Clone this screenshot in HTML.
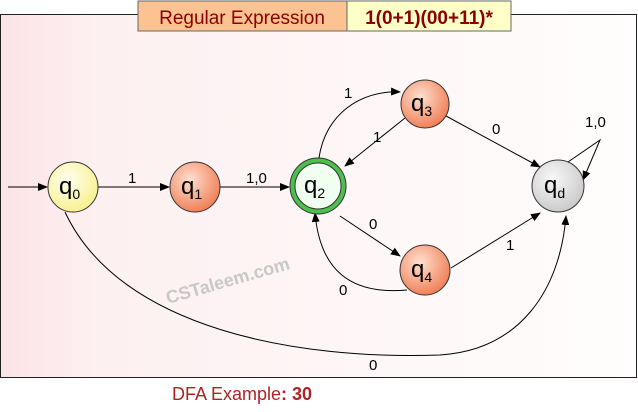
<!DOCTYPE html>
<html><head><style>
body{margin:0;width:638px;height:407px;background:#fff;overflow:hidden;font-family:"Liberation Sans",sans-serif}
</style></head><body>
<svg width="638" height="407" xmlns="http://www.w3.org/2000/svg" font-family="Liberation Sans, sans-serif">
<defs>
<linearGradient id="bg" x1="0" x2="1" y1="0" y2="0"><stop offset="0" stop-color="#fbe3e6"/><stop offset="0.15" stop-color="#fdf0f1"/><stop offset="1" stop-color="#fffdfd"/></linearGradient>
<radialGradient id="yel" cx="0.4" cy="0.35" r="0.7"><stop offset="0" stop-color="#fffff0"/><stop offset="1" stop-color="#f8f08a"/></radialGradient>
<radialGradient id="org" cx="0.4" cy="0.35" r="0.7"><stop offset="0" stop-color="#ffe0d0"/><stop offset="1" stop-color="#ef7a50"/></radialGradient>
<radialGradient id="gry" cx="0.4" cy="0.35" r="0.7"><stop offset="0" stop-color="#f8f8f8"/><stop offset="1" stop-color="#c8c8c8"/></radialGradient>
<marker id="a" markerWidth="10" markerHeight="8" refX="9" refY="4" orient="auto" markerUnits="userSpaceOnUse"><path d="M0,0L10,4L0,8z" fill="#000"/></marker>
</defs>
<rect x="0.5" y="14.5" width="636" height="363" fill="url(#bg)" stroke="#222"/>
<rect x="138" y="1" width="209" height="30" fill="#fcc392" stroke="#666"/>
<rect x="347" y="1" width="164" height="30" fill="#ffffc8" stroke="#666"/>
<text x="242" y="24" font-size="19" fill="#8b0000" text-anchor="middle">Regular Expression</text>
<text x="429" y="24" font-size="19" fill="#8b0000" font-weight="bold" text-anchor="middle">1(0+1)(00+11)*</text>
<text x="168" y="304" transform="rotate(-16 168 304)" font-size="18" font-weight="bold" fill="#c8c8c8">CSTaleem.com</text>
<g stroke="#000" fill="none" stroke-width="1">
<line x1="8" y1="187" x2="47" y2="187" marker-end="url(#a)"/>
<line x1="98" y1="187" x2="169" y2="187" marker-end="url(#a)"/>
<line x1="220" y1="187" x2="289" y2="187" marker-end="url(#a)"/>
<path d="M319,158 C325,115 360,90 400,92" marker-end="url(#a)"/>
<line x1="405" y1="118" x2="345" y2="166" marker-end="url(#a)"/>
<line x1="446" y1="116" x2="540" y2="167" marker-end="url(#a)"/>
<line x1="340" y1="216" x2="400" y2="256" marker-end="url(#a)"/>
<path d="M407,290 C350,295 320,270 315,213" marker-end="url(#a)"/>
<line x1="451" y1="268" x2="540" y2="213" marker-end="url(#a)"/>
<path d="M65,212 C120,330 300,360 440,355 C520,350 560,290 566,216" marker-end="url(#a)"/>
<path d="M568,162 L600,140 L583,180" marker-end="url(#a)"/>
</g>
<circle cx="73" cy="187" r="25" fill="url(#yel)" stroke="#333"/>
<circle cx="195" cy="187" r="25" fill="url(#org)" stroke="#333"/>
<circle cx="318" cy="186" r="28" fill="#4dbf4d" stroke="#333"/>
<circle cx="318" cy="186" r="23" fill="#f0fff0" stroke="#333"/>
<circle cx="425" cy="104" r="24" fill="url(#org)" stroke="#333"/>
<circle cx="425" cy="270" r="25" fill="url(#org)" stroke="#333"/>
<circle cx="558" cy="186" r="26" fill="url(#gry)" stroke="#333"/>
<g font-size="24" fill="#000">
<text x="59" y="194">q<tspan font-size="14" dy="5">0</tspan></text>
<text x="181" y="194">q<tspan font-size="14" dy="5">1</tspan></text>
<text x="304" y="193">q<tspan font-size="14" dy="5">2</tspan></text>
<text x="411" y="111">q<tspan font-size="14" dy="5">3</tspan></text>
<text x="411" y="277">q<tspan font-size="14" dy="5">4</tspan></text>
<text x="544" y="193">q<tspan font-size="14" dy="5">d</tspan></text>
</g>
<g font-size="15" fill="#000">
<text x="128" y="183">1</text>
<text x="246" y="183">1,0</text>
<text x="344" y="98">1</text>
<text x="373" y="142">1</text>
<text x="492" y="134">0</text>
<text x="585" y="127">1,0</text>
<text x="369" y="229">0</text>
<text x="339" y="295">0</text>
<text x="506" y="250">1</text>
<text x="369" y="370">0</text>
</g>
<text x="172" y="400" font-size="18" fill="#b22222">DFA Example<tspan font-weight="bold">: 30</tspan></text>
</svg>
</body></html>
